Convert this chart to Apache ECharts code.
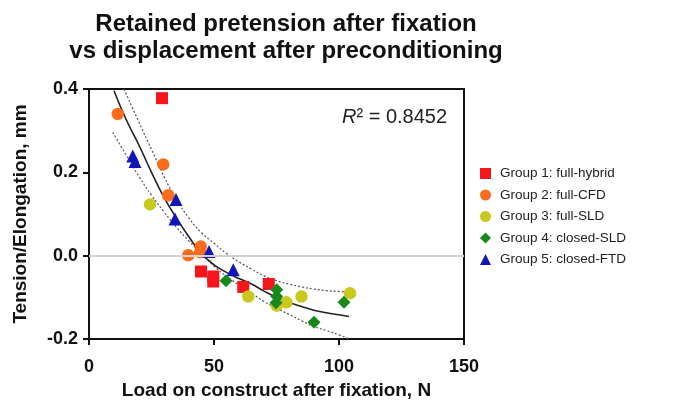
<!DOCTYPE html>
<html>
<head>
<meta charset="utf-8">
<script src="https://cdn.jsdelivr.net/npm/echarts@6/dist/echarts.min.js"></script>
<style>
  * { margin: 0; padding: 0; }
  html, body { width: 677px; height: 400px; background: #fff; }
  #chart { width: 677px; height: 400px; }
</style>
</head>
<body>
<div id="chart"></div>
<script>
// points: [load N, tension/elongation mm]
const group1 = [[29.2, 0.378], [44.8, -0.038], [49.7, -0.050], [49.7, -0.062], [61.7, -0.075], [71.9, -0.068]]
const group2 = [[11.5, 0.340], [29.7, 0.219], [31.7, 0.145], [44.7, 0.022], [44.4, 0.008], [39.7, 0.001]]
const group3 = [[24.4, 0.123], [63.7, -0.098], [75.1, -0.120], [79.0, -0.112], [85.0, -0.098], [104.4, -0.090]]
const group4 = [[54.8, -0.060], [75.1, -0.082], [75.1, -0.098], [74.8, -0.113], [90.0, -0.160], [102.0, -0.112]]
const group5 = [[17.5, 0.239], [18.4, 0.226], [34.8, 0.135], [34.4, 0.088], [48.0, 0.010], [57.7, -0.034]]

// fitted curve and confidence band, read at a few x positions
const fitX = [10, 15, 20, 25, 30, 35, 40, 45, 50, 55, 60, 65, 70, 75, 80, 85, 90, 95, 100, 104]
const fitY = [0.396, 0.325, 0.265, 0.200, 0.140, 0.090, 0.045, 0.005, -0.022, -0.040, -0.055, -0.068, -0.085, -0.100, -0.112, -0.122, -0.131, -0.137, -0.142, -0.146]
const upperX = [14, 20, 25, 30, 35, 40, 45, 50, 55, 60, 65, 70, 75, 80, 85, 90, 95, 100, 104]
const upperY = [0.400, 0.320, 0.255, 0.190, 0.135, 0.090, 0.055, 0.030, 0.005, -0.015, -0.032, -0.048, -0.060, -0.068, -0.075, -0.080, -0.084, -0.086, -0.088]
const lowerX = [9.5, 15, 20, 25, 30, 35, 40, 45, 50, 55, 60, 65, 70, 75, 80, 85, 90, 95, 100, 104]
const lowerY = [0.296, 0.240, 0.190, 0.145, 0.105, 0.068, 0.035, 0.005, -0.025, -0.050, -0.070, -0.090, -0.110, -0.126, -0.141, -0.156, -0.170, -0.180, -0.190, -0.200]

const groupNames = ['Group 1: full-hybrid', 'Group 2: full-CFD', 'Group 3: full-SLD', 'Group 4: closed-SLD', 'Group 5: closed-FTD']
const r2 = '0.8452'

const zip = (xs, ys) => xs.map((x, i) => [x, ys[i]])
const font = 'Liberation Sans, Arial, sans-serif'

const chart = echarts.init(document.getElementById('chart'))

const bandLine = (data) => ({
  type: 'line',
  data: data,
  smooth: true,
  showSymbol: false,
  silent: true,
  z: 1,
  lineStyle: { color: '#555', width: 1.2, type: [2, 2] }
})

const scatter = (name, data, symbol, size, color) => ({
  name: name,
  type: 'scatter',
  data: data,
  symbol: symbol,
  symbolSize: size,
  z: 3,
  itemStyle: { color: color, opacity: 1 }
})

chart.setOption({
  animation: false,
  title: {
    text: 'Retained pretension after fixation\nvs displacement after preconditioning',
    left: 281,
    textAlign: 'center',
    top: 6,
    textStyle: { fontFamily: font, fontSize: 24, fontWeight: 'bold', color: '#111', lineHeight: 27 }
  },
  grid: {
    left: 89, right: 213, top: 89, bottom: 61,
    outerBoundsMode: 'none',
    show: true, borderColor: '#111', borderWidth: 2, backgroundColor: 'transparent'
  },
  legend: {
    orient: 'vertical',
    left: 475,
    top: 161,
    itemWidth: 11,
    itemHeight: 11,
    itemGap: 6.5,
    data: groupNames,
    textStyle: { fontFamily: font, fontSize: 13.5, color: '#222', lineHeight: 15, padding: [0, 0, 0, 4] }
  },
  xAxis: {
    type: 'value',
    min: 0, max: 150, interval: 50,
    name: 'Load on construct after fixation, N',
    nameLocation: 'middle',
    nameGap: 33,
    nameTextStyle: { fontFamily: font, fontSize: 19, fontWeight: 'bold', color: '#111' },
    axisLine: { onZero: false, lineStyle: { color: '#111', width: 2 } },
    axisTick: { show: true, length: 6, lineStyle: { width: 2 } },
    axisLabel: { fontFamily: font, fontSize: 18, fontWeight: 'bold', color: '#111', margin: 19 },
    splitLine: { show: false }
  },
  yAxis: {
    type: 'value',
    min: -0.2, max: 0.4, interval: 0.2,
    name: 'Tension/Elongation, mm',
    nameLocation: 'middle',
    nameGap: 59,
    nameTextStyle: { fontFamily: font, fontSize: 19, fontWeight: 'bold', color: '#111' },
    axisLine: { show: true, onZero: false, lineStyle: { color: '#111', width: 2 } },
    axisTick: { show: true, length: 6, lineStyle: { width: 2 } },
    axisLabel: { fontFamily: font, fontSize: 18, fontWeight: 'bold', color: '#111', margin: 11, formatter: v => v.toFixed(1) },
    splitLine: { show: false }
  },
  graphic: [
    {
      type: 'text',
      left: 342,
      top: 107,
      style: {
        text: '{i|R}² = ' + r2,
        fontFamily: font,
        fontSize: 20,
        fill: '#222',
        rich: { i: { fontStyle: 'italic', fontFamily: font, fontSize: 20, fill: '#222' } }
      }
    }
  ],
  series: [
    {
      type: 'line',
      data: zip(fitX, fitY),
      smooth: true,
      showSymbol: false,
      silent: true,
      z: 2,
      lineStyle: { color: '#222', width: 1.6 },
      markLine: {
        silent: true,
        symbol: 'none',
        label: { show: false },
        lineStyle: { color: '#d2d2d2', width: 2, type: 'solid' },
        data: [{ yAxis: 0 }]
      }
    },
    bandLine(zip(upperX, upperY)),
    bandLine(zip(lowerX, lowerY)),
    scatter(groupNames[0], group1, 'rect', 12, '#f5161b'),
    scatter(groupNames[1], group2, 'circle', 12.5, '#fb6d1c'),
    scatter(groupNames[2], group3, 'circle', 12.5, '#c9c81e'),
    scatter(groupNames[3], group4, 'diamond', 13, '#17891b'),
    scatter(groupNames[4], group5, 'triangle', 13, '#1215b8')
  ]
})
</script>
</body>
</html>
